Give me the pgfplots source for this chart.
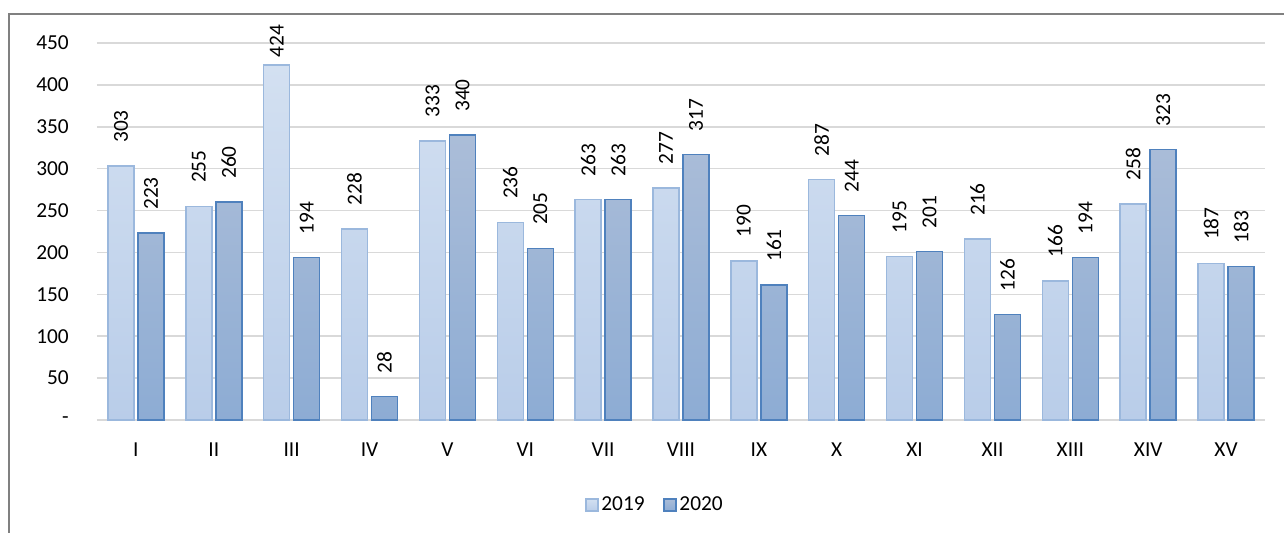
\documentclass[border=0pt]{standalone}
\usepackage{pgfplots}
\usepackage{pgfplotstable}
\pgfplotsset{compat=1.18}
\usepackage{fontspec}
\setmainfont{Carlito}
\definecolor{aTop}{HTML}{D3E0F1}
\definecolor{aBot}{HTML}{B9CDE9}
\definecolor{aEdge}{HTML}{9BB8DD}
\definecolor{bTop}{HTML}{ABBDD8}
\definecolor{bBot}{HTML}{8DACD4}
\definecolor{bEdge}{HTML}{4F81BD}
\definecolor{gridc}{HTML}{D9D9D9}
\definecolor{framec}{HTML}{808080}
\newcommand{\fs}{\fontsize{16}{19}\selectfont}
\pgfplotstableread{
x a ao b bo
0 303 17 223 17
1 255 17 260 17
2 424 5 194 17
3 228 17 28 17
4 333 17 340 17
5 236 17 205 17
6 263 17 263 17
7 277 17 317 17
8 190 17 161 17
9 287 17 244 17
10 195 17 201 17
11 216 17 126 17
12 166 17 194 17
13 258 17 323 17
14 187 17 183 17
}\data
\begin{document}
\begin{tikzpicture}
\useasboundingbox (-72.75pt,-84pt) rectangle (890.25pt,315pt);
\draw[framec, line width=1.1pt] (-66pt,-100pt) |- (900pt,304.5pt);
\begin{axis}[
  at={(0,0)}, anchor=south west,
  scale only axis, width=876pt, height=282.75pt,
  xmin=-0.5, xmax=14.5, ymin=0, ymax=450,
  clip=false,
  /pgf/number format/assume math mode=true,
  axis line style={draw=none},
  ybar=3pt, bar width=19.5pt,
  xtick=data,
  xticklabels={I,II,III,IV,V,VI,VII,VIII,IX,X,XI,XII,XIII,XIV,XV},
  ytick={0,50,...,450},
  yticklabels={-,50,100,150,200,250,300,350,400,450},
  major tick length=0pt,
  ymajorgrids, grid style={gridc, line width=1.1pt},
  tick label style={font=\fs},
  xticklabel style={anchor=center, yshift=-22.5pt},
  yticklabel style={anchor=east, inner sep=0pt, xshift=-21pt},
  nodes near coords,
  point meta=explicit,
  legend style={at={(0.478,-0.225)}, anchor=center, draw=none, font=\fs,
    legend columns=2, /tikz/every even column/.append style={column sep=12pt}},
  legend image code/.code={\draw[#1, line width=1.1pt] (0pt,-4.5pt) rectangle (9pt,4.5pt);},
]
\addplot[draw=aEdge, line width=1.1pt, top color=aTop, bottom color=aBot,
  visualization depends on={\thisrow{ao} \as \off},
  nodes near coords style={font=\fs, rotate=90, anchor=west, inner sep=0pt, xshift=\off pt}]
  table[x=x, y=a, meta=a] {\data};
\addplot[draw=bEdge, line width=1.1pt, top color=bTop, bottom color=bBot,
  visualization depends on={\thisrow{bo} \as \off},
  nodes near coords style={font=\fs, rotate=90, anchor=west, inner sep=0pt, xshift=\off pt}]
  table[x=x, y=b, meta=b] {\data};
\legend{2019,2020}
\end{axis}
\end{tikzpicture}
\end{document}
